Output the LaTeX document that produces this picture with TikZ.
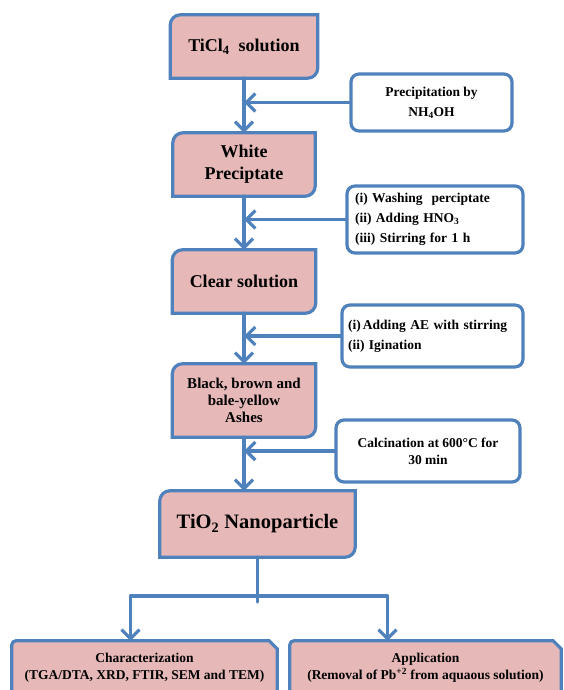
\documentclass[tikz,border=0pt]{standalone}
\usepackage{fontspec}
\setmainfont{Liberation Serif}
\usetikzlibrary{arrows.meta,backgrounds}
\definecolor{flowblue}{RGB}{79,129,189}
\definecolor{flowpink}{RGB}{230,185,184}
% pink step box: rounded at top left and bottom right
\newcommand{\stepshape}[1]{\draw[boxline,fill=flowpink] (#1.south west) -- ([yshift=-10pt]#1.north west)
    arc[start angle=180,end angle=90,radius=10pt] -- (#1.north east)
    -- ([yshift=10pt]#1.south east) arc[start angle=0,end angle=-90,radius=10pt] -- cycle;}
% result box: cut at top right
\newcommand{\resultshape}[1]{\draw[boxline,fill=flowpink] (#1.south west) -- ([yshift=-4pt]#1.north west)
    arc[start angle=180,end angle=90,radius=4pt] -- ([xshift=-8pt]#1.north east)
    -- ([yshift=-8pt]#1.north east) -- (#1.south east) -- cycle;}
\begin{document}
\begin{tikzpicture}[x=1pt,y=-1pt,line join=round,line cap=round,
    boxline/.style={draw=flowblue,line width=3.2pt},
    stepnode/.style={inner sep=0pt,align=center,font=\bfseries\fontsize{18}{22}\selectfont},
    notebox/.style={boxline,rounded corners=8pt,fill=white,inner sep=0pt,font=\bfseries\fontsize{13.5}{20}\selectfont},
    resultnode/.style={inner sep=0pt,align=center,font=\bfseries\fontsize{13.5}{17}\selectfont},
    flow/.style={boxline,-{Straight Barb[length=9pt,width=18pt]}}]
    \useasboundingbox (0,0) rectangle (563,690);
    \node[stepnode,minimum width=147pt,minimum height=63pt] (ticl) at (244,46.5) {TiCl\textsubscript{4}\ \ solution};
    \node[stepnode,minimum width=142pt,minimum height=63pt] (white) at (244,164.5) {White\\Preciptate};
    \node[stepnode,minimum width=143pt,minimum height=63pt] (clear) at (244,281.5) {Clear solution};
    \node[stepnode,minimum width=143pt,minimum height=73pt,font=\bfseries\fontsize{15}{17}\selectfont] (ashes) at (244,400.5) {Black, brown and\\bale-yellow\\Ashes};
    \node[stepnode,minimum width=195pt,minimum height=66pt,font=\bfseries\fontsize{20.5}{24}\selectfont] (tio) at (257.5,524) {TiO\textsubscript{2} Nanoparticle};
    \node[notebox,minimum width=161pt,minimum height=57pt,align=center] (prec) at (431.5,102.5) {Precipitation by\\NH\textsubscript{4}OH};
    \node[notebox,text width=160pt,inner xsep=8pt,minimum height=67pt,align=left] (wash) at (435,219.5) {(i) Washing\ \ perciptate\\(ii) Adding HNO\textsubscript{3}\\(iii) Stirring for 1 h};
    \node[notebox,text width=169pt,inner xsep=6pt,minimum height=62pt,align=left] (ae) at (432.5,336) {(i)\,Adding AE with stirring\\(ii) Igination};
    \node[notebox,minimum width=184pt,minimum height=62pt,align=center,font=\bfseries\fontsize{13.5}{17}\selectfont] (calc) at (428,451) {Calcination at 600°C for\\30 min};
    \node[resultnode,minimum width=265pt,minimum height=54pt] (char) at (144.5,668) {Characterization\\(TGA/DTA, XRD, FTIR, SEM and TEM)};
    \node[resultnode,minimum width=271pt,minimum height=54pt] (app) at (425.5,668) {Application\\(Removal of Pb\textsuperscript{+2} from aquaous solution)};
    \begin{scope}[on background layer]
        \stepshape{ticl} \stepshape{white} \stepshape{clear} \stepshape{ashes} \stepshape{tio}
        \resultshape{char} \resultshape{app}
    \end{scope}
    \draw[flow] (ticl.south) -- (white.north);
    \draw[flow] (prec.west) -- (prec.west -| ticl.south);
    \draw[flow] (white.south) -- (clear.north);
    \draw[flow] (wash.west) -- (wash.west -| white.south);
    \draw[flow] (clear.south) -- (ashes.north);
    \draw[flow] (ae.west) -- (ae.west -| clear.south);
    \draw[flow] (ashes.south) -- (ashes.south |- tio.north);
    \draw[flow] (calc.west) -- (calc.west -| ashes.south);
    \coordinate (fork) at (tio.south |- 0,596);
    \draw[boxline] (tio.south) -- ([yshift=-6pt]fork);
    \draw[flow] (fork) -| ([xshift=-14pt]char.north);
    \draw[flow] (fork) -| ([xshift=-38pt]app.north);
\end{tikzpicture}
\end{document}
